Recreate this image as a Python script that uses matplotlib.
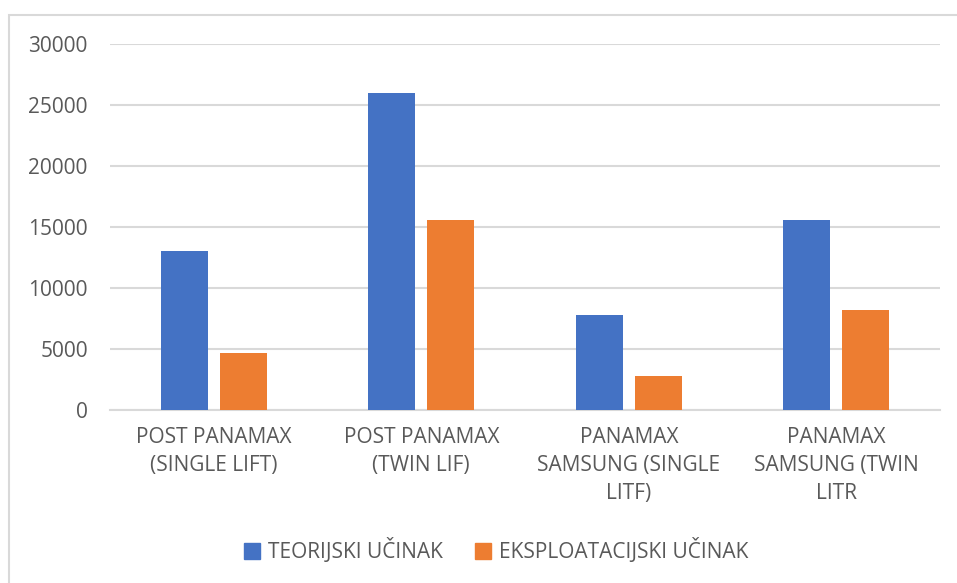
import matplotlib.pyplot as plt
import matplotlib.patches as mpatches
import numpy as np

# Chart data
categories = ['POST PANAMAX\n(SINGLE LIFT)', 'POST PANAMAX\n(TWIN LIF)',
              'PANAMAX\nSAMSUNG (SINGLE\nLITF)', 'PANAMAX\nSAMSUNG (TWIN\nLITR']
teorijski = [13000, 26000, 7800, 15600]
eksploatacijski = [4650, 15600, 2800, 8200]
series_names = ['TEORIJSKI UČINAK', 'EKSPLOATACIJSKI UČINAK']

plt.rcParams['font.family'] = ['Open Sans', 'DejaVu Sans']
text_color = '#595959'
grid_color = '#D9D9D9'

fig = plt.figure(figsize=(9.57, 5.83), dpi=100)
ax = fig.add_axes([110 / 957, 173 / 583, 830 / 957, 366 / 583])

x = np.arange(len(categories))
w = 0.2265
ax.bar(x - 0.142, teorijski, width=w, color='#4472C4', label=series_names[0], zorder=3)
ax.bar(x + 0.142, eksploatacijski, width=w, color='#ED7D31', label=series_names[1], zorder=3)

ax.set_xlim(-0.5, 3.5)
ax.set_ylim(0, 30000)
ax.set_yticks(range(0, 30001, 5000))
ax.yaxis.grid(True, color=grid_color, linewidth=1.5, zorder=0)
ax.set_axisbelow(True)
for side in ['top', 'right', 'left']:
    ax.spines[side].set_visible(False)
ax.spines['bottom'].set_color(grid_color)
ax.spines['bottom'].set_linewidth(1.5)

ax.set_xticks(x)
ax.set_xticklabels(categories, linespacing=1.45)
ax.tick_params(axis='y', length=0, pad=16, labelsize=15, labelcolor=text_color)
ax.tick_params(axis='x', length=0, pad=12, labelsize=15, labelcolor=text_color)

# Legend with square handles
handles = [plt.Line2D([], [], marker='s', linestyle='', markersize=11, color=c)
           for c in ['#4472C4', '#ED7D31']]
fig.legend(handles, series_names, loc='center', bbox_to_anchor=(495 / 957, 32 / 583),
           ncol=2, frameon=False, fontsize=15, labelcolor=text_color,
           handletextpad=0.3, columnspacing=1.4, handlelength=1.0)

# Chart border
fig.patches.append(mpatches.Rectangle((9 / 957, -0.1), 1.2, (568 / 583) + 0.1,
                                      transform=fig.transFigure, fill=False,
                                      edgecolor=grid_color, linewidth=1.5))

fig.savefig('out.png', dpi=100)
